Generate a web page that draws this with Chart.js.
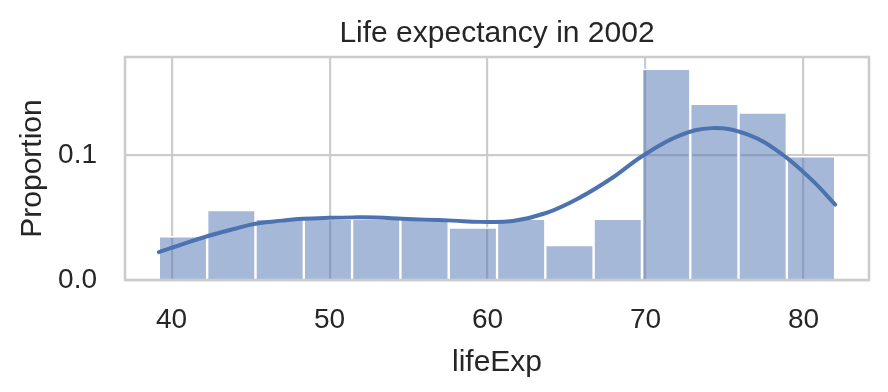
<!DOCTYPE html>
<html>
<head>
<meta charset="utf-8">
<script src="https://cdn.jsdelivr.net/npm/chart.js@4"></script>
<style>
    body { margin: 0; background: #fff; }
    #wrap { width: 888px; height: 392px; }
</style>
</head>
<body>
<div id="wrap"><canvas id="hist-chart" width="888" height="392"></canvas></div>
<script>
// histogram bins (lifeExp) and their proportions
const binEdges = [39.19, 42.25, 45.31, 48.37, 51.42, 54.48, 57.54, 60.60, 63.65, 66.71, 69.77, 72.83, 75.88, 78.94, 82.0];
const proportions = [0.035, 0.056, 0.049, 0.049, 0.049, 0.049, 0.042, 0.049, 0.028, 0.049, 0.169, 0.141, 0.134, 0.099];

// kde curve
const kdeX = [39.19, 40.5, 42.2, 44.0, 45.3, 47.0, 48.3, 50.0, 51.5, 53.0, 54.6, 56.0, 57.8, 59.5, 61.6, 63.7, 65.8, 67.9, 69.8, 72.1, 74.2, 76.4, 78.5, 80.6, 82.0];
const kdeY = [0.0223, 0.0278, 0.0348, 0.041, 0.045, 0.0475, 0.049, 0.0498, 0.0501, 0.050, 0.049, 0.0483, 0.0475, 0.0465, 0.0472, 0.0536, 0.0657, 0.0818, 0.0992, 0.1153, 0.1215, 0.1167, 0.1019, 0.0791, 0.0603];

const xTicks = [40, 50, 60, 70, 80];
const yTicks = [0.0, 0.1];

const textColor = '#262626';
const gridColor = '#cccccc';
const fontFamily = '"Liberation Sans", Arial, sans-serif';

const barData = proportions.map((p, i) => ({ x: (binEdges[i] + binEdges[i + 1]) / 2, y: p }));
const kdeData = kdeX.map((x, i) => ({ x: x, y: kdeY[i] }));

// grey frame around the plot, like the seaborn spines
const framePlugin = {
    id: 'frame',
    afterDatasetsDraw(chart) {
        const { ctx, chartArea } = chart;
        ctx.save();
        ctx.strokeStyle = gridColor;
        ctx.lineWidth = 2.6;
        ctx.strokeRect(chartArea.left, chartArea.top, chartArea.right - chartArea.left, chartArea.bottom - chartArea.top);
        ctx.restore();
    }
};

const ctx = document.getElementById('hist-chart').getContext('2d');
new Chart(ctx, {
    type: 'bar',
    data: {
        datasets: [
            {
                type: 'line',
                data: kdeData,
                borderColor: '#4c72b0',
                borderWidth: 4,
                borderCapStyle: 'round',
                pointRadius: 0,
                tension: 0.4,
                fill: false,
                order: 0
            },
            {
                data: barData,
                backgroundColor: 'rgba(76, 114, 176, 0.5)',
                borderColor: '#ffffff',
                borderWidth: 1.5,
                barPercentage: 1,
                categoryPercentage: 1,
                order: 1
            }
        ]
    },
    options: {
        responsive: false,
        animation: false,
        layout: { padding: { left: 0, right: 19, top: 0, bottom: 0 } },
        plugins: {
            legend: { display: false },
            tooltip: { enabled: false },
            title: {
                display: true,
                text: 'Life expectancy in 2002',
                color: textColor,
                fullSize: false,
                font: { family: fontFamily, size: 30, weight: 'normal' },
                padding: { top: 16, bottom: 5 }
            }
        },
        scales: {
            x: {
                type: 'linear',
                offset: false,
                min: 37.05,
                max: 84.14,
                afterBuildTicks: (scale) => { scale.ticks = xTicks.map(v => ({ value: v })); },
                afterFit: (scale) => { scale.height = 112; },
                grid: { color: gridColor, lineWidth: 2.2, drawTicks: false, offset: false },
                border: { display: false },
                ticks: {
                    color: textColor,
                    padding: 23,
                    font: { family: fontFamily, size: 28 }
                },
                title: {
                    display: true,
                    text: 'lifeExp',
                    color: textColor,
                    font: { family: fontFamily, size: 30 },
                    padding: { top: 0, bottom: 11 }
                }
            },
            y: {
                min: 0,
                max: 0.1784,
                afterBuildTicks: (scale) => { scale.ticks = yTicks.map(v => ({ value: v })); },
                afterFit: (scale) => { scale.width = 125; },
                grid: { color: gridColor, lineWidth: 2.2, drawTicks: false },
                border: { display: false },
                ticks: {
                    color: textColor,
                    padding: 28,
                    font: { family: fontFamily, size: 28 },
                    callback: (v) => v.toFixed(1)
                },
                title: {
                    display: true,
                    text: 'Proportion',
                    color: textColor,
                    font: { family: fontFamily, size: 30 },
                    padding: { top: 15, bottom: 0 }
                }
            }
        }
    },
    plugins: [framePlugin]
});
</script>
</body>
</html>
